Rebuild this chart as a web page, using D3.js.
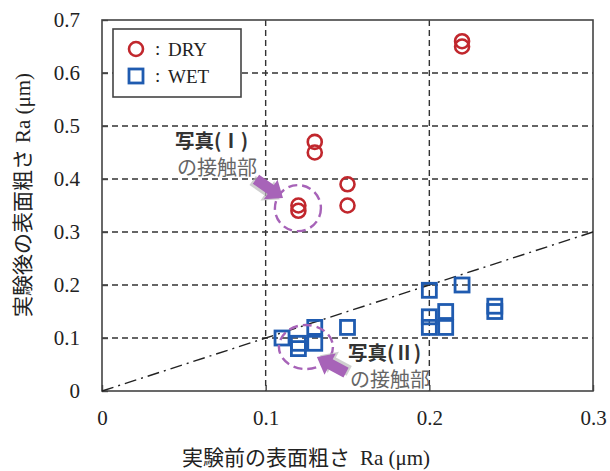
<!DOCTYPE html>
<html lang="ja">
<head>
<meta charset="UTF-8">
<title>表面粗さ</title>
<script src="https://d3js.org/d3.v7.min.js"></script>
<style>
  body { margin: 0; background: #fff; }
  svg { display: block; }
</style>
</head>
<body>
<svg id="chart" width="610" height="471"></svg>
<script>
// data (Ra before test, Ra after test), um
const dryBefore = [0.22, 0.22, 0.13, 0.13, 0.15, 0.15, 0.12, 0.12];
const dryAfter  = [0.66, 0.65, 0.47, 0.45, 0.39, 0.35, 0.35, 0.34];
const wetBefore = [0.11, 0.12, 0.12, 0.13, 0.13, 0.15, 0.20, 0.20, 0.20, 0.21, 0.21, 0.22, 0.24, 0.24];
const wetAfter  = [0.10, 0.09, 0.08, 0.12, 0.09, 0.12, 0.19, 0.14, 0.12, 0.15, 0.12, 0.20, 0.16, 0.15];
const xTicks = [0, 0.1, 0.2, 0.3];
const yTicks = [0, 0.1, 0.2, 0.3, 0.4, 0.5, 0.6, 0.7];
const refLine = [0, 0.3];   // y = x

const margin = { top: 20, right: 17, bottom: 80, left: 102 },
      width = 610 - margin.left - margin.right,
      height = 471 - margin.top - margin.bottom;

const serif = "'Liberation Serif', 'DejaVu Serif', serif";
const jp = "'Noto Sans CJK JP', 'Noto Sans', sans-serif";
const red = "#c1272d", blue = "#1f5bb0", purple = "#a763b8";

const svg = d3.select("#chart");
const g = svg.append("g").attr("transform", `translate(${margin.left},${margin.top})`);

const x = d3.scaleLinear().domain([0, 0.3]).range([0, width]);
const y = d3.scaleLinear().domain([0, 0.7]).range([height, 0]);

// grid
g.selectAll(".gy").data(yTicks.slice(1, -1)).join("line")
  .attr("x1", 0).attr("x2", width)
  .attr("y1", d => y(d)).attr("y2", d => y(d))
  .attr("stroke", "#333").attr("stroke-width", 1.4).attr("stroke-dasharray", "6,4");
g.selectAll(".gx").data(xTicks.slice(1, -1)).join("line")
  .attr("x1", d => x(d)).attr("x2", d => x(d))
  .attr("y1", 0).attr("y2", height)
  .attr("stroke", "#333").attr("stroke-width", 1.4).attr("stroke-dasharray", "6,4");

// axes (inward ticks)
const ax = g.append("g").attr("transform", `translate(0,${height})`)
  .call(d3.axisBottom(x).tickValues(xTicks).tickSize(-6).tickPadding(19)
    .tickFormat(d => d === 0 ? "0" : d3.format(".1f")(d)));
const ay = g.append("g")
  .call(d3.axisLeft(y).tickValues(yTicks).tickSize(-6).tickPadding(22)
    .tickFormat(d => d === 0 ? "0" : d3.format(".1f")(d)));
[ax, ay].forEach(a => {
  a.select(".domain").remove();
  a.selectAll("line").attr("stroke", "#444").attr("stroke-width", 1.4);
  a.selectAll("text").attr("font-family", serif).attr("font-size", 21).attr("fill", "#222");
});

g.append("rect").attr("width", width).attr("height", height)
  .attr("fill", "none").attr("stroke", "#444").attr("stroke-width", 1.6);

// reference line
g.append("line")
  .attr("x1", x(refLine[0])).attr("y1", y(refLine[0]))
  .attr("x2", x(refLine[1])).attr("y2", y(refLine[1]))
  .attr("stroke", "#222").attr("stroke-width", 1.4).attr("stroke-dasharray", "12,5,2,5");

// points
g.selectAll(".dry").data(dryBefore).join("circle")
  .attr("cx", d => x(d)).attr("cy", (d, i) => y(dryAfter[i])).attr("r", 7)
  .attr("fill", "none").attr("stroke", red).attr("stroke-width", 2.6);
g.selectAll(".wet").data(wetBefore).join("rect")
  .attr("x", d => x(d) - 7).attr("y", (d, i) => y(wetAfter[i]) - 7)
  .attr("width", 14).attr("height", 14)
  .attr("fill", "none").attr("stroke", blue).attr("stroke-width", 2.8);

// annotations
function arrow(tx, ty, ang) {
  const a = g.append("g").attr("transform", `translate(${x(tx)},${y(ty)}) rotate(${ang})`);
  const p = "M0,0 L-15,-12 L-15,-5.5 L-33,-5.5 L-33,5.5 L-15,5.5 L-15,12 Z";
  a.append("path").attr("d", p).attr("fill", "#bbb").attr("transform", "translate(-2,3)").attr("opacity", 0.7);
  a.append("path").attr("d", p).attr("fill", purple);
}
g.append("ellipse").attr("cx", x(0.1197)).attr("cy", y(0.345)).attr("rx", 23).attr("ry", 23)
  .attr("fill", "none").attr("stroke", purple).attr("stroke-width", 2.4).attr("stroke-dasharray", "9,5");
g.append("ellipse").attr("cx", x(0.1246)).attr("cy", y(0.083)).attr("rx", 27).attr("ry", 22)
  .attr("fill", "none").attr("stroke", purple).attr("stroke-width", 2.4).attr("stroke-dasharray", "9,5");
arrow(0.1106, 0.364, 35);
arrow(0.1313, 0.064, 208);

function label(tx, ty, num) {
  const t = g.append("g").attr("transform", `translate(${x(tx)},${y(ty)})`);
  t.append("text").attr("font-family", jp).attr("font-weight", "bold").attr("font-size", 19.5)
    .attr("fill", "#333").text(`写真(${num})`);
  t.append("text").attr("x", 2).attr("y", 27).attr("font-family", jp).attr("font-size", 20)
    .attr("fill", "#666").text("の接触部");
}
label(0.0446, 0.459, "Ⅰ");
label(0.1503, 0.059, "Ⅱ");

// legend
const lg = g.append("g").attr("transform", "translate(11,9)");
lg.append("rect").attr("width", 128).attr("height", 68)
  .attr("fill", "#fff").attr("stroke", "#444").attr("stroke-width", 1.6);
lg.append("circle").attr("cx", 23).attr("cy", 20).attr("r", 7)
  .attr("fill", "none").attr("stroke", red).attr("stroke-width", 2.6);
lg.append("rect").attr("x", 16).attr("y", 40).attr("width", 14).attr("height", 14)
  .attr("fill", "none").attr("stroke", blue).attr("stroke-width", 2.8);
[["DRY", 20], ["WET", 47]].forEach(([t, cy]) => {
  lg.append("text").attr("x", 42).attr("y", cy + 6).attr("font-family", serif).attr("font-size", 19)
    .attr("fill", "#222").text(":");
  lg.append("text").attr("x", 55).attr("y", cy + 7).attr("font-family", serif).attr("font-size", 19)
    .attr("fill", "#222").text(t);
});

// axis titles
const xt = svg.append("text").attr("x", 306).attr("y", 465).attr("text-anchor", "middle")
  .attr("font-size", 21).attr("fill", "#222");
xt.append("tspan").attr("font-family", jp).text("実験前の表面粗さ");
xt.append("tspan").attr("font-family", serif).attr("dx", 10).text("Ra (μm)");

const yt = svg.append("text").attr("transform", "translate(30,195) rotate(-90)").attr("text-anchor", "middle")
  .attr("font-size", 21).attr("fill", "#222");
yt.append("tspan").attr("font-family", jp).text("実験後の表面粗さ");
yt.append("tspan").attr("font-family", serif).attr("dx", 6).text("Ra (μm)");
</script>
</body>
</html>
